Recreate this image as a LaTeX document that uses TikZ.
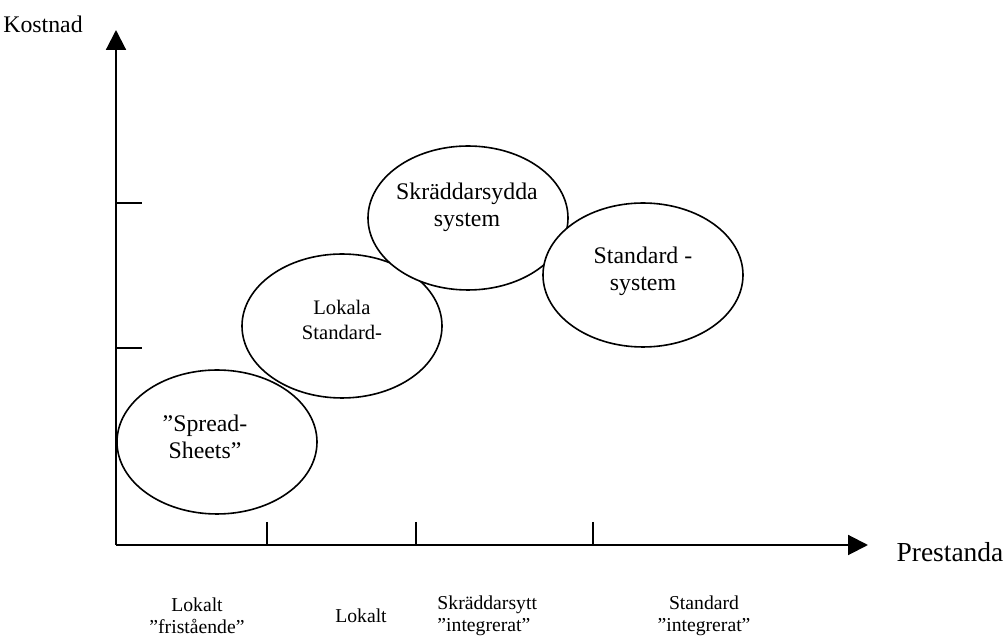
\documentclass[tikz,border=0pt]{standalone}
\usepackage{fontspec}
\setmainfont{Liberation Serif}
\usetikzlibrary{shapes.geometric,arrows.meta,positioning}
\tikzset{
  >={Triangle[length=8.7pt,width=8.7pt]},
  axisline/.style={draw,line width=0.9pt},
  blob/.style={draw,ellipse,fill=white,line width=0.7pt,minimum width=3.07cm,minimum height=2.21cm,inner sep=0pt},
  blobtext/.style={align=center,inner sep=0pt,font=\fontsize{10.4}{11.8}\selectfont},
  lowtext/.style={align=center,inner sep=0pt,font=\fontsize{8.6}{9.8}\selectfont}
}
\begin{document}
\begin{tikzpicture}[x=0.01535cm,y=-0.01535cm]
\useasboundingbox (0,0) rectangle (1003,637);
% the four system groups
\node[blob](ss) at (217,442){};
\node[blob](lok) at (342,326){};
\node[blob](skr) at (468,218){};
\node[blob](std) at (643,275){};
\node[blobtext](sstxt) at (205,437){”Spread-\\Sheets”};
\node[blobtext,font=\fontsize{9}{11}\selectfont](loktxt) at (342,320){Lokala\\Standard-};
\node[blobtext](skrtxt) at (467,207){Skräddarsydda\\system};
\node[blobtext](stdtxt) at (643,271){Standard -\\system};
% axes
\coordinate(o) at (116,545);
\coordinate(ytop) at (116,30);
\coordinate(xend) at (868,545);
\draw[axisline,->](o)--(ytop);
\draw[axisline,->](o)--(xend);
\foreach \y in {203,348}{\draw[axisline](116,\y)--(142,\y);}
\foreach \x in {267,416,593}{\draw[axisline](\x,522)--(\x,545);}
\node[blobtext](kost) at (43,24){Kostnad};
\node[blobtext,font=\fontsize{12}{14}\selectfont](prest) at (950,552){Prestanda};
% labels under the x axis
\node[lowtext](l1) at (197,616){Lokalt\\”fristående”};
\node[lowtext](l2) at (361,616){Lokalt};
\node[lowtext,align=left,anchor=west](l3) at (437,616){Skräddarsytt\\”integrerat”};
\node[lowtext](l4) at (704,616){Standard\\”integrerat”};
\end{tikzpicture}
\end{document}
